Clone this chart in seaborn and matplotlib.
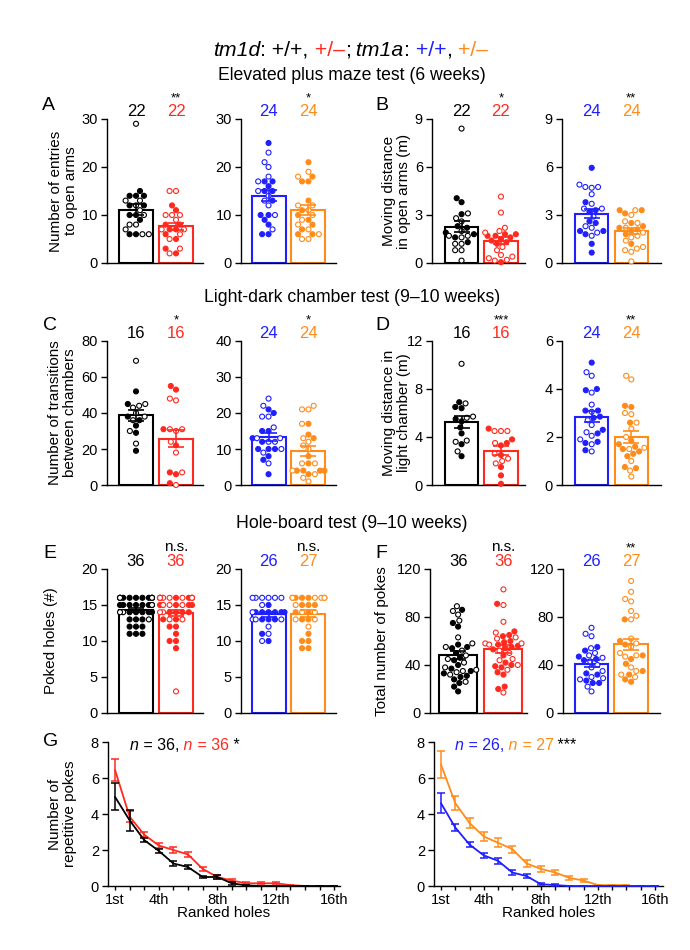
import warnings
warnings.filterwarnings("ignore")
import numpy as np
import pandas as pd
import matplotlib
matplotlib.use("Agg")
import matplotlib.pyplot as plt
import seaborn as sns

# ---------------------------------------------------------------- data
NAMES_1D = ["tm1d +/+", "tm1d +/–"]
NAMES_1A = ["tm1a +/+", "tm1a +/–"]
BLACK, RED, BLUE, ORANGE = "#000000", "#ff2a1f", "#1f1fff", "#ff8c1a"

# A  number of entries to open arms
A_wt1d_filled = [15, 14, 14, 14, 12, 12, 10, 10, 9, 6, 6]
A_wt1d_open = [29, 13, 13, 12, 11, 10, 8, 8, 7, 6, 6]
A_het1d_filled = [12, 11, 8, 8, 7, 7, 6, 5, 3, 2]
A_het1d_open = [15, 15, 10, 10, 10, 9, 7, 7, 6, 5, 3, 2]
A_wt1a_filled = [25, 17, 17, 16, 15, 15, 13, 10, 10, 9, 8, 6, 6]
A_wt1a_open = [23, 21, 20, 18, 17, 15, 14, 13, 12, 10, 7]
A_het1a_filled = [21, 18, 17, 17, 13, 11, 10, 9, 8, 7, 6, 6]
A_het1a_open = [19, 18, 12, 12, 11, 10, 9, 8, 7, 6, 5, 5]

# B  moving distance in open arms (m)
B_wt1d_filled = [4.05, 3.8, 3.05, 2.3, 2.2, 1.9, 1.8, 1.6, 1.3]
B_wt1d_open = [8.4, 3.1, 2.8, 2.6, 2.0, 1.7, 1.7, 1.6, 1.2, 1.2, 0.8, 0.8, 0.15]
B_het1d_filled = [1.8, 1.8, 1.7, 1.7, 1.6, 1.5, 1.4, 1.3, 1.2, 0.05]
B_het1d_open = [4.15, 3.15, 2.2, 2.0, 1.9, 1.0, 0.8, 0.5, 0.4, 0.3, 0.2, 0.15]
B_wt1a_filled = [5.95, 3.8, 3.3, 3.2, 2.6, 2.5, 2.0, 2.0, 1.8, 1.2, 0.65]
B_wt1a_open = [4.9, 4.75, 4.75, 4.7, 4.3, 3.7, 3.4, 3.4, 2.9, 2.3, 2.2, 1.9, 1.7]
B_het1a_filled = [3.3, 3.3, 3.1, 2.5, 2.3, 2.2, 2.1, 2.0, 1.8, 1.2]
B_het1a_open = [3.3, 3.0, 2.6, 2.5, 2.2, 1.9, 1.7, 1.6, 1.4, 1.0, 0.9, 0.8, 0.7, 0.1]

# C  number of transitions between chambers
C_wt1d_filled = [52, 45, 38, 36, 33, 29, 19]
C_wt1d_open = [69, 45, 44, 43, 40, 38, 36, 30, 23]
C_het1d_filled = [55, 53, 31, 22, 7, 6, 1]
C_het1d_open = [48, 47, 31, 31, 30, 24, 18, 7, 0]
C_wt1a_filled = [21, 20, 15, 15, 13, 12, 10, 10, 10, 8, 7, 3]
C_wt1a_open = [24, 22, 19, 19, 16, 13, 13, 12, 12, 10, 9, 6]
C_het1a_filled = [17, 14, 13, 8, 6, 4, 4, 4, 4, 3]
C_het1a_open = [22, 21, 21, 17, 13, 12, 11, 10, 6, 6, 4, 3, 2, 1]

# D  moving distance in light chamber (m)
D_wt1d_filled = [6.9, 6.5, 6.4, 5.5, 5.3, 4.8, 4.3, 3.4, 2.4]
D_wt1d_open = [10.1, 6.8, 5.7, 5.6, 3.7, 3.6, 2.8]
D_het1d_filled = [4.7, 3.8, 3.5, 3.3, 2.5, 1.5, 0.8, 0.1]
D_het1d_open = [4.5, 4.5, 4.5, 3.5, 2.6, 2.2, 2.0, 1.8]
D_wt1a_filled = [5.1, 4.0, 3.95, 3.1, 3.1, 2.85, 2.8, 2.3, 2.15, 1.8, 1.75, 1.45]
D_wt1a_open = [4.7, 4.55, 3.85, 3.35, 3.05, 2.7, 2.5, 2.2, 2.05, 1.9, 1.7, 1.4]
D_het1a_filled = [3.3, 3.25, 2.6, 1.85, 1.7, 1.6, 1.5, 1.4, 1.3, 1.2, 0.75, 0.7]
D_het1a_open = [4.55, 4.4, 3.0, 2.95, 2.6, 2.35, 2.0, 1.55, 1.5, 1.0, 0.6, 0.35]

# E  poked holes (#)
E_wt1d_filled = [16, 16, 16, 16, 16, 16, 16, 16, 16, 15, 15, 15, 15, 15, 15, 15,
                 14, 14, 14, 14, 14, 13, 13, 13, 12, 12, 12, 11, 11, 11]
E_wt1d_open = [16, 16, 15, 14, 14, 13]
E_het1d_filled = [16, 16, 16, 16, 16, 15, 15, 15, 15, 14, 14, 14, 14, 13, 13,
                  12, 12, 11, 10, 10, 9]
E_het1d_open = [16, 16, 16, 16, 16, 16, 16, 15, 15, 15, 14, 14, 13, 13, 3]
E_wt1a_filled = [15, 14, 14, 14, 14, 14, 14, 13, 13, 13, 11, 10]
E_wt1a_open = [16, 16, 16, 16, 16, 16, 15, 14, 13, 13, 13, 12, 11, 10]
E_het1a_filled = [16, 16, 16, 15, 15, 15, 14, 14, 13, 13, 11, 10, 10, 9, 9]
E_het1a_open = [16, 16, 16, 16, 16, 16, 15, 14, 14, 13, 13, 12]

# F  total number of pokes
F_wt1d_filled = [86, 75, 72, 57, 55, 54, 50, 46, 44, 40, 37, 35, 33, 31, 30, 28, 25, 22, 18]
F_wt1d_open = [89, 85, 82, 77, 63, 58, 55, 52, 48, 45, 42, 38, 36, 35, 34, 32, 26]
F_het1d_filled = [91, 68, 65, 64, 60, 59, 57, 56, 55, 54, 53, 48, 42, 40, 39, 38, 34, 32, 22, 20]
F_het1d_open = [103, 90, 76, 67, 63, 62, 58, 58, 57, 52, 50, 45, 44, 40, 36, 17]
F_wt1a_filled = [55, 52, 47, 45, 44, 33, 32, 27, 25, 25]
F_wt1a_open = [71, 66, 64, 54, 50, 48, 46, 43, 40, 38, 35, 30, 29, 28, 22, 18]
F_het1a_filled = [78, 60, 57, 48, 45, 41, 35, 32, 28, 26]
F_het1a_open = [110, 101, 95, 93, 85, 81, 78, 62, 58, 55, 50, 48, 47, 38, 35, 32, 30]

# G  repetitive pokes per ranked hole (mean, SEM)
G_rank = list(range(1, 17))
G_tick_labels = ["1st", "", "", "4th", "", "", "", "8th", "", "", "", "12th", "", "", "", "16th"]
G_wt1d_mean = [4.95, 3.65, 2.55, 1.95, 1.25, 1.05, 0.5, 0.5, 0.15, 0.03, 0, 0, 0, 0, 0, 0]
G_wt1d_sem = [0.75, 0.6, 0.12, 0.12, 0.12, 0.12, 0.05, 0.1, 0.1, 0.03, 0, 0, 0, 0, 0, 0]
G_het1d_mean = [6.45, 3.85, 2.85, 2.25, 2.0, 1.75, 0.95, 0.5, 0.3, 0.15, 0.15, 0.15, 0.05, 0.0,
                np.nan, np.nan]
G_het1d_sem = [0.62, 0.3, 0.15, 0.15, 0.15, 0.13, 0.13, 0.1, 0.1, 0.05, 0.05, 0.05, 0.03, 0.0,
               np.nan, np.nan]
G_wt1a_mean = [4.6, 3.25, 2.3, 1.7, 1.4, 0.75, 0.55, 0.1, 0.05, 0, 0, 0, 0, 0, 0, 0]
G_wt1a_sem = [0.55, 0.2, 0.15, 0.15, 0.15, 0.12, 0.1, 0.05, 0.05, 0, 0, 0, 0, 0, 0, 0]
G_het1a_mean = [6.75, 4.6, 3.5, 2.75, 2.4, 2.05, 1.25, 0.95, 0.75, 0.45, 0.3, 0.05, 0.05, 0.05,
                np.nan, np.nan]
G_het1a_sem = [0.75, 0.4, 0.3, 0.25, 0.25, 0.2, 0.2, 0.15, 0.12, 0.1, 0.1, 0.03, 0.03, 0.03,
               np.nan, np.nan]

# ---------------------------------------------------------------- style
sns.set_theme(style="ticks")
plt.rcParams["font.family"] = ["Liberation Sans", "DejaVu Sans"]
plt.rcParams.update({
    "axes.linewidth": 1.0, "axes.edgecolor": "black", "axes.labelcolor": "black",
    "xtick.color": "black", "ytick.color": "black", "text.color": "black",
    "xtick.major.width": 1.0, "ytick.major.width": 1.0,
})

W, H = 690, 950
fig = plt.figure(figsize=(W / 100, H / 100), dpi=100)
fig.patch.set_facecolor("white")


def add_ax(x0, x1, yt, yb):
    a = fig.add_axes([x0 / W, 1 - yb / H, (x1 - x0) / W, (yb - yt) / H])
    a.patch.set_alpha(0)
    return a


def style_axis(ax, ylim, yticks, ylabel, label_x):
    ax.set_ylim(*ylim)
    ax.set_yticks(yticks)
    ax.set_ylabel(ylabel if ylabel else "", fontsize=11, linespacing=1.1)
    if ylabel:
        ax.yaxis.set_label_coords(label_x, 0.5)
    sns.despine(ax=ax)
    ax.tick_params(axis="y", direction="out", length=4, width=1, labelsize=10.5, pad=2.5)


def bar_panel(ax, names, filled, opened, colors, ylim, yticks, xlim, width,
              sig, ylabel=None, label_x=None):
    rows = []
    for nm, fv, ov in zip(names, filled, opened):
        rows += [(nm, v, nm + "|F") for v in fv]
        rows += [(nm, v, nm + "|O") for v in ov]
    df = pd.DataFrame(rows, columns=["grp", "val", "kind"])
    sns.barplot(data=df, x="grp", y="val", hue="grp", order=names, hue_order=names,
                palette=colors, errorbar=None, fill=False, width=width, linewidth=1.5,
                legend=False, ax=ax)
    n0 = len(ax.collections)
    pal = {}
    for nm, c in zip(names, colors):
        pal[nm + "|F"] = c
        pal[nm + "|O"] = "white"
    sns.swarmplot(data=df, x="grp", y="val", hue="kind", order=names, palette=pal,
                  size=3.6, legend=False, ax=ax, zorder=3)
    for coll, c in zip(ax.collections[n0:], colors):
        coll.set_edgecolor(c)
        coll.set_linewidth(0.8)
        coll.set_clip_on(False)
    stats = df.groupby("grp")["val"].agg(["mean", "sem"]).reindex(names)
    for i, (nm, c) in enumerate(zip(names, colors)):
        ax.errorbar(i, stats.loc[nm, "mean"], yerr=stats.loc[nm, "sem"], color=c,
                    capsize=6, elinewidth=1.2, capthick=1.2, zorder=5)
    tr = ax.get_xaxis_transform()
    ntexts = []
    for i, (nm, c) in enumerate(zip(names, colors)):
        n = len(filled[i]) + len(opened[i])
        ntexts.append(ax.text(i, 1.05, str(n), transform=tr, ha="center", va="center",
                              color=c, fontsize=12, clip_on=False))
    if sig:
        fs = 11 if sig == "n.s." else 9.5
        ax.annotate(sig, xy=(0.5, 1.0), xycoords=ntexts[1], ha="center", va="bottom",
                    fontsize=fs, annotation_clip=False)
    ax.set_xlim(*xlim)
    ax.set_xticks([])
    ax.set_xlabel("")
    style_axis(ax, ylim, yticks, ylabel, label_x)


C1D = [BLACK, RED]
C1A = [BLUE, ORANGE]

# Row 1 : A and B
ax = add_ax(107, 203, 119, 263)
bar_panel(ax, NAMES_1D, [A_wt1d_filled, A_het1d_filled], [A_wt1d_open, A_het1d_open], C1D,
          (0, 30), [0, 10, 20, 30], (-0.725, 1.675), 0.85, "**",
          "Number of entries\nto open arms", -0.30)
ax = add_ax(241, 336, 119, 263)
bar_panel(ax, NAMES_1A, [A_wt1a_filled, A_het1a_filled], [A_wt1a_open, A_het1a_open], C1A,
          (0, 30), [0, 10, 20, 30], (-0.69, 1.69), 0.85, "*")
ax = add_ax(432, 525, 119, 263)
bar_panel(ax, NAMES_1D, [B_wt1d_filled, B_het1d_filled], [B_wt1d_open, B_het1d_open], C1D,
          (0, 9), [0, 3, 6, 9], (-0.75, 1.61), 0.84, "*",
          "Moving distance\nin open arms (m)", -0.226)
ax = add_ax(562, 661, 119, 263)
bar_panel(ax, NAMES_1A, [B_wt1a_filled, B_het1a_filled], [B_wt1a_open, B_het1a_open], C1A,
          (0, 9), [0, 3, 6, 9], (-0.75, 1.75), 0.84, "**")

# Row 2 : C and D
ax = add_ax(107, 203, 341, 485)
bar_panel(ax, NAMES_1D, [C_wt1d_filled, C_het1d_filled], [C_wt1d_open, C_het1d_open], C1D,
          (0, 80), [0, 20, 40, 60, 80], (-0.725, 1.675), 0.85, "*",
          "Number of transitions\nbetween chambers", -0.31)
ax = add_ax(241, 336, 341, 485)
bar_panel(ax, NAMES_1A, [C_wt1a_filled, C_het1a_filled], [C_wt1a_open, C_het1a_open], C1A,
          (0, 40), [0, 10, 20, 30, 40], (-0.69, 1.69), 0.85, "*")
ax = add_ax(432, 525, 341, 485)
bar_panel(ax, NAMES_1D, [D_wt1d_filled, D_het1d_filled], [D_wt1d_open, D_het1d_open], C1D,
          (0, 12), [0, 4, 8, 12], (-0.75, 1.61), 0.84, "***",
          "Moving distance in\nlight chamber (m)", -0.226)
ax = add_ax(562, 661, 341, 485)
bar_panel(ax, NAMES_1A, [D_wt1a_filled, D_het1a_filled], [D_wt1a_open, D_het1a_open], C1A,
          (0, 6), [0, 2, 4, 6], (-0.75, 1.75), 0.84, "**")

# Row 3 : E and F
ax = add_ax(107, 203, 569, 713)
bar_panel(ax, NAMES_1D, [E_wt1d_filled, E_het1d_filled], [E_wt1d_open, E_het1d_open], C1D,
          (0, 20), [0, 5, 10, 15, 20], (-0.725, 1.675), 0.85, "n.s.",
          "Poked holes (#)", -0.51)
ax = add_ax(241, 336, 569, 713)
bar_panel(ax, NAMES_1A, [E_wt1a_filled, E_het1a_filled], [E_wt1a_open, E_het1a_open], C1A,
          (0, 20), [0, 5, 10, 15, 20], (-0.69, 1.69), 0.85, "n.s.")
ax = add_ax(430, 527, 569, 713)
bar_panel(ax, NAMES_1D, [F_wt1d_filled, F_het1d_filled], [F_wt1d_open, F_het1d_open], C1D,
          (0, 120), [0, 40, 80, 120], (-0.62, 1.52), 0.84, "n.s.",
          "Total number of pokes", -0.42)
ax = add_ax(563, 660, 569, 713)
bar_panel(ax, NAMES_1A, [F_wt1a_filled, F_het1a_filled], [F_wt1a_open, F_het1a_open], C1A,
          (0, 120), [0, 40, 80, 120], (-0.72, 1.73), 0.84, "**")


# Row 4 : G
def line_panel(ax, series, xlim, ylabel=None, label_x=None):
    for mean, sem, c in series:
        sns.lineplot(x=G_rank, y=mean, color=c, linewidth=1.3, ax=ax, zorder=3, clip_on=False)
        ax.errorbar(G_rank, mean, yerr=sem, fmt="none", ecolor=c, capsize=3,
                    elinewidth=1.1, capthick=1.1, zorder=3, clip_on=False)
    ax.set_xlim(*xlim)
    ax.set_xticks(G_rank)
    ax.set_xticklabels(G_tick_labels)
    ax.tick_params(axis="x", direction="out", length=3, width=1, labelsize=10.5, pad=2)
    ax.set_xlabel("Ranked holes", fontsize=11, labelpad=-1)
    style_axis(ax, (0, 8), [0, 2, 4, 6, 8], ylabel, label_x)


ax = add_ax(108, 340, 742, 886)
line_panel(ax, [(G_het1d_mean, G_het1d_sem, RED), (G_wt1d_mean, G_wt1d_sem, BLACK)],
           (0.52, 16.4), "Number of\nrepetitive pokes", -0.134)
ax = add_ax(434, 663, 742, 886)
line_panel(ax, [(G_het1a_mean, G_het1a_sem, ORANGE), (G_wt1a_mean, G_wt1a_sem, BLUE)],
           (0.51, 16.56))

# overlay axes for figure-level texts (on top of every panel)
bg = fig.add_axes([0, 0, 1, 1])
bg.set_axis_off()
bg.set_zorder(10)


# ---------------------------------------------------------------- figure texts
def fx(px):
    return px / W


def fy(py):
    return 1 - py / H


def rich(x, y, pieces, size):
    t = bg.text(fx(x), fy(y), pieces[0][0], color=pieces[0][1], style=pieces[0][2],
                fontsize=size, ha="left", va="center", transform=bg.transAxes)
    for txt, col, sty in pieces[1:]:
        t = bg.annotate(txt, xy=(1, 0), xycoords=t, va="bottom", ha="left",
                        color=col, style=sty, fontsize=size)


rich(213, 50, [("tm1d", BLACK, "italic"), (": +/+,", BLACK, "normal"),
               (" +/–", RED, "normal"), (";", BLACK, "normal"),
               (" tm1a", BLACK, "italic"), (":", BLACK, "normal"),
               (" +/+", BLUE, "normal"), (",", BLACK, "normal"),
               (" +/–", ORANGE, "normal")], 15.3)

for txt, py in [("Elevated plus maze test (6 weeks)", 75),
                ("Light-dark chamber test (9–10 weeks)", 297),
                ("Hole-board test (9–10 weeks)", 523)]:
    bg.text(fx(352), fy(py), txt, ha="center", va="center", fontsize=12.7,
            transform=bg.transAxes)

for letter, px, py in [("A", 42, 105), ("B", 375, 105), ("C", 43, 325), ("D", 375, 325),
                       ("E", 43, 553), ("F", 375, 553), ("G", 43, 741)]:
    bg.text(fx(px), fy(py), letter, ha="left", va="center", fontsize=14,
            transform=bg.transAxes)

rich(130, 745, [("n", BLACK, "italic"), (" = 36,", BLACK, "normal"),
                (" n", RED, "italic"), (" = 36", RED, "normal"),
                (" *", BLACK, "normal")], 11.5)
rich(455, 745, [("n", BLUE, "italic"), (" = 26,", BLUE, "normal"),
                (" n", ORANGE, "italic"), (" = 27", ORANGE, "normal"),
                (" ***", BLACK, "normal")], 11.5)

fig.savefig("out.png", dpi=100, facecolor="white")
